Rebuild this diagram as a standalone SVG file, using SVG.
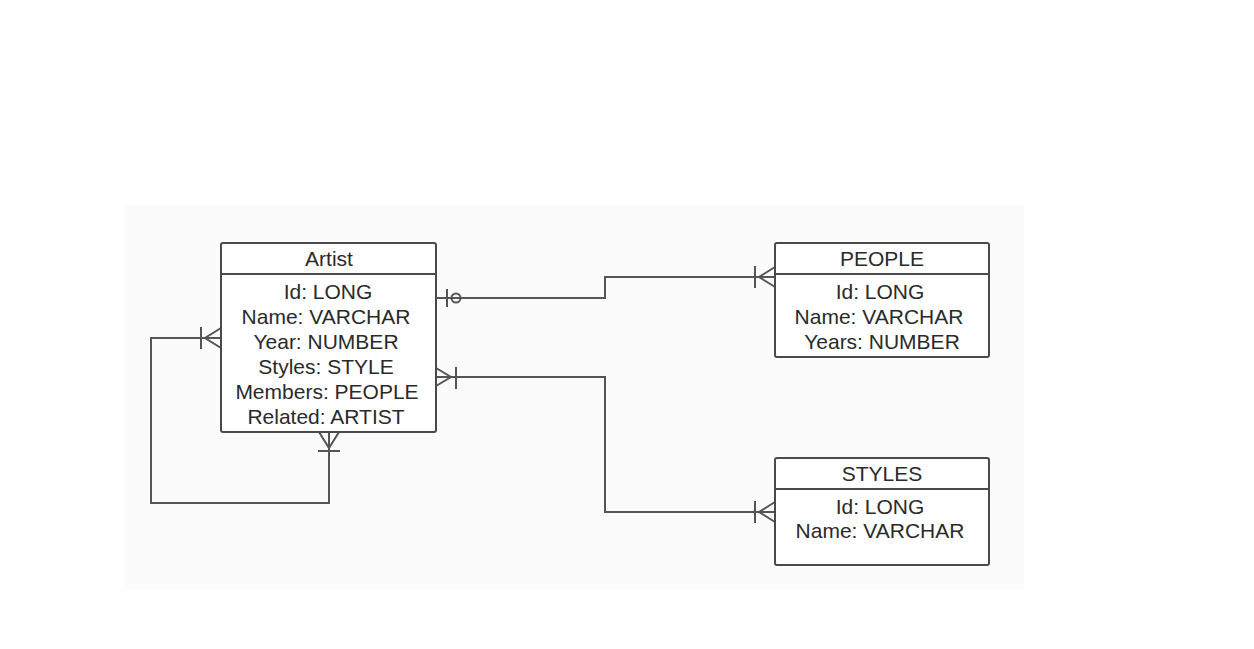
<svg xmlns="http://www.w3.org/2000/svg" width="1254" height="649" viewBox="0 0 1254 649">
<style>
.box{fill:#ffffff;stroke:#4a4a4a;stroke-width:2}
.sep{stroke:#4a4a4a;stroke-width:2}
.t{font-family:"Liberation Sans",Arial,sans-serif;font-size:21px;fill:#2a2a2a;text-anchor:middle}
.c{fill:none;stroke:#555555;stroke-width:2}
</style>
<rect x="0" y="0" width="1254" height="649" fill="#ffffff"/>
<rect x="124" y="205" width="900" height="384" fill="#fbfbfb"/>
<g id="connectors">
  <!-- Artist to PEOPLE -->
  <path class="c" d="M436 298 H605 V277 H775"/>
  <path class="c" d="M447 289 V307"/>
  <circle class="c" cx="456" cy="298" r="4.5" fill="#ffffff"/>
  <path class="c" d="M775 267 L759 277 L775 287 M755 266 V288"/>
  <!-- Artist to STYLES -->
  <path class="c" d="M436 377 H605 V512 H775"/>
  <path class="c" d="M436 368 L451 377 L436 386 M456 367 V389"/>
  <path class="c" d="M775 502 L759 512 L775 522 M755 501 V523"/>
  <!-- Self loop -->
  <path class="c" d="M221 338 H151 V503 H329 V432"/>
  <path class="c" d="M221 328 L205 338 L221 348 M201 327 V349"/>
  <path class="c" d="M319 432 L329 448 L339 432 M318 451 H340"/>
</g>
<g id="artist">
  <rect class="box" x="221" y="243" width="215" height="189" rx="2"/>
  <line class="sep" x1="221" y1="274" x2="436" y2="274"/>
  <text class="t" x="329" y="266">Artist</text>
  <text class="t" x="328" y="299">Id: LONG</text>
  <text class="t" x="326" y="324">Name: VARCHAR</text>
  <text class="t" x="326" y="349">Year: NUMBER</text>
  <text class="t" x="326" y="374">Styles: STYLE</text>
  <text class="t" x="327" y="399">Members: PEOPLE</text>
  <text class="t" x="326" y="424">Related: ARTIST</text>
</g>
<g id="people">
  <rect class="box" x="775" y="243" width="214" height="114" rx="2"/>
  <line class="sep" x1="775" y1="274" x2="989" y2="274"/>
  <text class="t" x="882" y="266">PEOPLE</text>
  <text class="t" x="880" y="299">Id: LONG</text>
  <text class="t" x="879" y="324">Name: VARCHAR</text>
  <text class="t" x="882" y="349">Years: NUMBER</text>
</g>
<g id="styles">
  <rect class="box" x="775" y="458" width="214" height="107" rx="2"/>
  <line class="sep" x1="775" y1="489" x2="989" y2="489"/>
  <text class="t" x="882" y="481">STYLES</text>
  <text class="t" x="880" y="514">Id: LONG</text>
  <text class="t" x="880" y="538">Name: VARCHAR</text>
</g>
</svg>
